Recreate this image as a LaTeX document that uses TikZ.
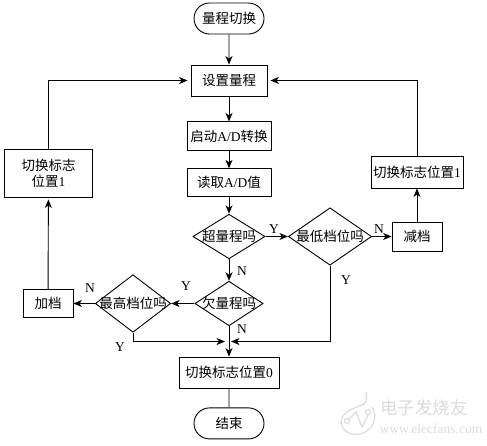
\documentclass[tikz,border=0pt]{standalone}
\usepackage{fontspec}
\setmainfont{Liberation Serif}
\newfontfamily\cjk{Noto Sans CJK SC}
\newcommand{\zh}[1]{{\cjk #1}}
\usetikzlibrary{arrows.meta,positioning,shapes.geometric,shapes.misc}
\begin{document}
\begin{tikzpicture}[x=1pt, y=-1pt, line width=0.9pt, >={Stealth[length=8.5pt,width=7pt,inset=2.5pt]},
				box/.style={draw, inner sep=0pt, font=\fontsize{13.5}{16}\selectfont, align=center},
				term/.style={box, rounded rectangle, minimum width=70pt, minimum height=31pt},
				test/.style={box, diamond},
				tag/.style={inner sep=0pt, font=\fontsize{13.5}{16}\selectfont},
				mark text/.style={inner sep=0pt, text=black!14},
				mark line/.style={draw=black!14, line width=1.2pt}]
				\useasboundingbox (0,0) rectangle (487,445);
				% centre column
				\node[term] (start) at (229,18.5) {\zh{量程切换}};
				\node[box, minimum width=76pt, minimum height=31pt] (range) at (229,80.5) {\zh{设置量程}};
				\node[box, minimum width=84pt, minimum height=29pt, below=25pt of range] (adc) {\zh{启动}A/D\zh{转换}};
				\node[box, minimum width=84pt, minimum height=28pt, below=17pt of adc] (read) {\zh{读取}A/D\zh{值}};
				\node[test, aspect=1.62, inner xsep=-1pt] (over) at (229,236.5) {\zh{超量程吗}};
				\node[test, aspect=1.53, inner xsep=-2.5pt] (under) at (229,303.5) {\zh{欠量程吗}};
				\node[box, minimum width=100pt, minimum height=31pt] (zero) at (229,372.5) {\zh{切换标志位置}0};
				\node[term, below=19pt of zero] (stop) {\zh{结束}};
				\coordinate (merge) at (229,341.5);
				% right branch
				\node[test, aspect=1.45, inner xsep=-1.25pt] (lowest) at (330,236.5) {\zh{最低档位吗}};
				\node[box, minimum width=50pt, minimum height=29pt] (down) at (417,236.5) {\zh{减档}};
				\node[box, minimum width=92pt, minimum height=32pt] (flagr) at (417,172) {\zh{切换标志位置}1};
				% left branch
				\node[test, aspect=1.31, inner xsep=-4.25pt] (highest) at (133,303.5) {\zh{最高档位吗}};
				\node[box, minimum width=50pt, minimum height=28pt] (up) at (48,303.5) {\zh{加档}};
				\node[box, minimum width=88pt, minimum height=48pt] (flagl) at (48.5,173) {\zh{切换标志}\\\zh{位置}1};
				% labels
				\node[tag] (y1) at (274,229) {Y};
				\node[tag] (n1) at (379,229) {N};
				\node[tag] (y2) at (346,280) {Y};
				\node[tag] (n2) at (242,271) {N};
				\node[tag] (y3) at (186,286) {Y};
				\node[tag] (n3) at (90,288) {N};
				\node[tag] (n4) at (242,329) {N};
				\node[tag] (y4) at (120,347) {Y};
				% links
				\draw[->] (start) -- (range);
				\draw[->] (range) -- (adc);
				\draw[->] (adc) -- (read);
				\draw[->] (read) -- (over);
				\draw[->] (over) -- (lowest);
				\draw[->] (lowest) -- (down);
				\draw[->] (down) -- (flagr);
				\draw[->, shorten >=3pt] (flagr.north) |- (range.east);
				\draw[->] (over) -- (under);
				\draw[->] (under) -- (highest);
				\draw[->] (highest) -- (up);
				\draw[->, shorten >=2pt] (up) -- (flagl);
				\draw[->, shorten >=3pt] (flagl.north) |- (range.west);
				\draw[->] (under) -- (zero);
				\draw[->, shorten >=4pt] (highest.south) |- (merge);
				\draw[->, shorten >=2pt] (lowest.south) |- (merge);
				\draw (zero) -- (stop);
				% watermark
				\draw[mark line] (366,392) .. controls (368,400) and (366,404) .. (360,406)
					.. controls (345,410) and (339,418) .. (342,426)
					.. controls (346,437) and (366,438) .. (373,424)
					.. controls (376,417) and (375,412) .. (372,407);
				\draw[mark line] (347,421) circle (2.5) (368,412) circle (2.5);
				\draw[mark line] (349,419) -- (356,412) -- (362,427) -- (368,415);
				\node[mark text] (wm1) at (424,408) {\fontsize{17.5}{18}\selectfont\zh{电子发烧友}};
				\node[mark text] (wm2) at (431,428.5) {\fontsize{13.5}{14}\selectfont www.elecfans.com};
			\end{tikzpicture}
\end{document}
